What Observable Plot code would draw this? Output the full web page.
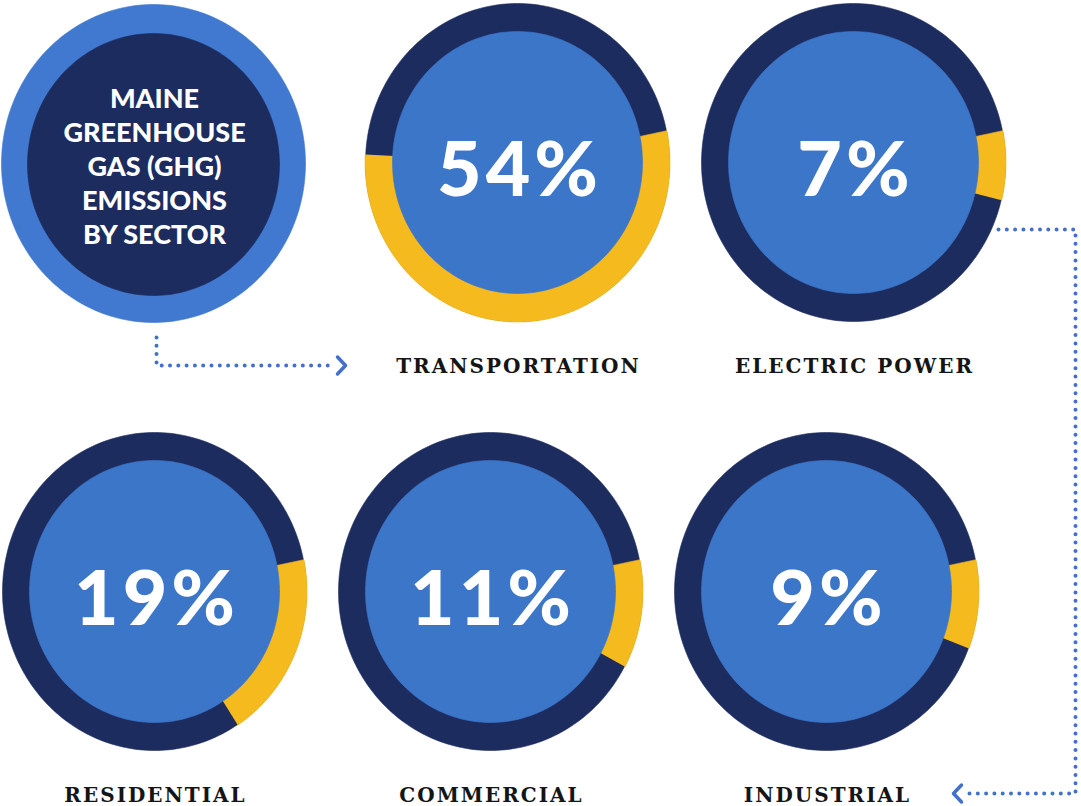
<!DOCTYPE html>
<html>
<head>
<meta charset="utf-8">
<script src="https://cdn.jsdelivr.net/npm/d3@7"></script>
<script src="https://cdn.jsdelivr.net/npm/@observablehq/plot@0.6"></script>
<style>
  html, body { margin: 0; padding: 0; background: #ffffff; }
  #chart svg { display: block; background: #ffffff; }
</style>
</head>
<body>
<div id="chart"></div>
<script>
// ---------- DATA ----------
const sectors = ["TRANSPORTATION", "ELECTRIC POWER", "RESIDENTIAL", "COMMERCIAL", "INDUSTRIAL"];
const shares = [54, 7, 19, 11, 9];
const titleLines = ["MAINE", "GREENHOUSE", "GAS (GHG)", "EMISSIONS", "BY SECTOR"];

// ---------- LAYOUT ----------
const W = 1081, H = 806;
const cellCenters = [[517, 162], [853, 162], [154, 591], [490, 591], [826, 591]];
const titleCenter = [153, 163];
const ring = {outerX: 152, outerY: 159, innerX: 125, innerY: 131};
const titleInner = {x: 126, y: 131};
const startDeg = -11.5;
const labelOffset = 204;
const colors = {navy: "#1d2c5e", disk: "#3c76c8", titleRing: "#4079cf", yellow: "#f5ba1e", dots: "#4170cf", label: "#151515"};

// geometry helpers
function ellipsePts(id, cx, cy, rx, ry, a0, a1, withCenter) {
  const pts = [];
  const n = Math.max(8, Math.ceil(Math.abs(a1 - a0) / 1.5));
  if (withCenter) pts.push({id, x: cx, y: cy});
  for (let i = 0; i <= n; i++) {
    const a = (a0 + (a1 - a0) * i / n) * Math.PI / 180;
    pts.push({id, x: cx + rx * Math.cos(a), y: cy + ry * Math.sin(a)});
  }
  return pts;
}

const navyDisks = [], yellowWedges = [], blueDisks = [];
sectors.forEach((s, i) => {
  const [cx, cy] = cellCenters[i];
  navyDisks.push(...ellipsePts(s, cx, cy, ring.outerX, ring.outerY, 0, 360, false));
  yellowWedges.push(...ellipsePts(s, cx, cy, ring.outerX + 0.5, ring.outerY + 0.5, startDeg, startDeg + shares[i] * 3.6, true));
  blueDisks.push(...ellipsePts(s, cx, cy, ring.innerX, ring.innerY, 0, 360, false));
});
const titleOuter = ellipsePts("t", titleCenter[0], titleCenter[1], ring.outerX, ring.outerY, 0, 360, false);
const titleDisk = ellipsePts("t", titleCenter[0], titleCenter[1] + 1, titleInner.x, titleInner.y, 0, 360, false);

const cells = sectors.map((s, i) => ({
  sector: s,
  label: shares[i] + "%",
  cx: cellCenters[i][0],
  cy: cellCenters[i][1]
}));

// connectors (derived from layout)
const c1x = titleCenter[0] + 3, c1y = cellCenters[0][1] + labelOffset - 1;
const conn1 = [
  {id: "a", x: c1x, y: titleCenter[1] + ring.outerY + 15},
  {id: "a", x: c1x, y: c1y},
  {id: "a", x: 333, y: c1y}
];
const chev1 = [
  {id: "a", x: 337, y: c1y - 8.5},
  {id: "a", x: 345, y: c1y},
  {id: "a", x: 337, y: c1y + 8.5}
];
const c2y = cellCenters[1][1] + 67, c2x = 1075, c2b = cellCenters[4][1] + labelOffset - 2;
const conn2 = [
  {id: "b", x: cellCenters[1][0] + 145, y: c2y},
  {id: "b", x: c2x, y: c2y},
  {id: "b", x: c2x, y: c2b},
  {id: "b", x: 963, y: c2b}
];
const chev2 = [
  {id: "b", x: 961, y: c2b - 8.5},
  {id: "b", x: 953, y: c2b},
  {id: "b", x: 961, y: c2b + 8.5}
];

const poly = (data, fill) => Plot.line(data, {x: "x", y: "y", z: "id", fill, stroke: fill, strokeWidth: 0.6, curve: "linear"});

const chart = Plot.plot({
  width: W,
  height: H,
  margin: 0,
  x: {domain: [0, W], range: [0, W], axis: null},
  y: {domain: [0, H], range: [0, H], axis: null},
  marks: [
    // title circle
    poly(titleOuter, colors.titleRing),
    poly(titleDisk, colors.navy),
    // sector rings
    poly(navyDisks, colors.navy),
    poly(yellowWedges, colors.yellow),
    poly(blueDisks, colors.disk),
    // connectors
    Plot.line(conn1, {x: "x", y: "y", z: "id", stroke: colors.dots, strokeWidth: 4, strokeDasharray: "0 8.3", strokeLinecap: "round"}),
    Plot.line(chev1, {x: "x", y: "y", z: "id", stroke: colors.dots, strokeWidth: 3.5, strokeLinecap: "round", strokeLinejoin: "round"}),
    Plot.line(conn2, {x: "x", y: "y", z: "id", stroke: colors.dots, strokeWidth: 4, strokeDasharray: "0 8.3", strokeLinecap: "round"}),
    Plot.line(chev2, {x: "x", y: "y", z: "id", stroke: colors.dots, strokeWidth: 3.5, strokeLinecap: "round", strokeLinejoin: "round"}),
    // title text
    Plot.text([titleLines.join("\n")], {
      x: titleCenter[0] + 1, y: titleCenter[1] + 2, text: d => d,
      fill: "white", fontSize: 27, fontWeight: 900, fontFamily: "Lato, 'Open Sans', sans-serif",
      lineHeight: 1.26
    }),
    // percentages
    Plot.text(cells, {
      x: d => d.cx + 2, y: d => d.cy + 9, text: "label",
      fill: "white", fontSize: 77, fontWeight: 900, fontFamily: "Lato, 'Open Sans', sans-serif"
    }),
    // sector labels
    Plot.text(cells, {
      x: d => d.cx + 1, y: d => d.cy + labelOffset, text: "sector",
      fill: colors.label, fontSize: 20, fontWeight: "bold", fontFamily: "'DejaVu Serif', 'Liberation Serif', serif"
    })
  ]
});

// letter spacing for typography
d3.select(chart).selectAll("text").each(function() {
  const t = this.textContent;
  if (sectors.includes(t)) this.style.letterSpacing = "2px";
  else if (t.endsWith("%")) this.style.letterSpacing = "4px";
});

document.getElementById("chart").appendChild(chart);
</script>
</body>
</html>
